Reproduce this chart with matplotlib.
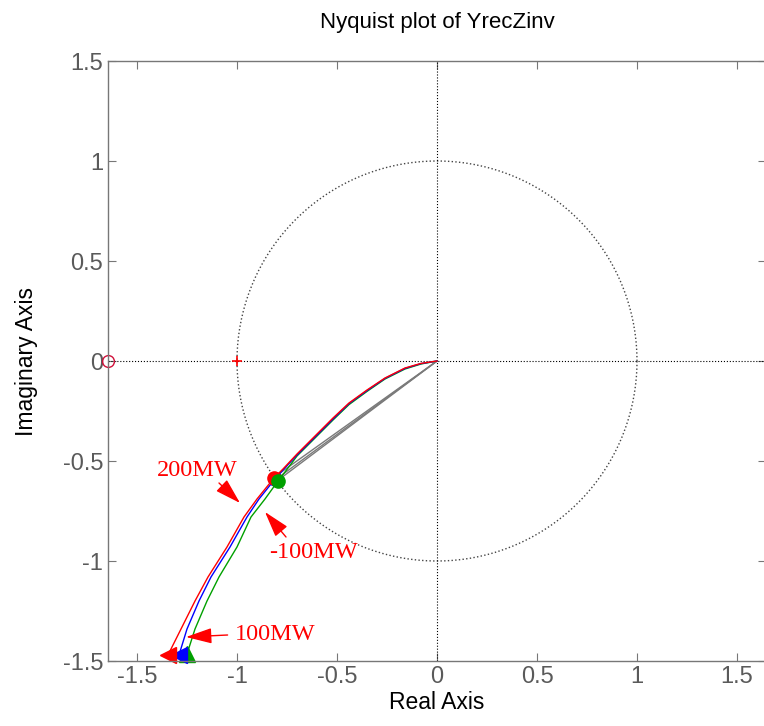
import numpy as np
import matplotlib
matplotlib.use("Agg")
import matplotlib.pyplot as plt
from matplotlib.ticker import FuncFormatter

plt.rcParams['font.family'] = ['Liberation Sans', 'DejaVu Sans']
plt.rcParams['axes.unicode_minus'] = False

# Nyquist curves (real, imag)
red_re = [0, -0.08, -0.16, -0.26, -0.35, -0.44, -0.52, -0.60, -0.70, -0.77, -0.815, -0.90, -0.965, -1.05, -1.145, -1.21, -1.28, -1.345]
red_im = [0, -0.012, -0.035, -0.085, -0.145, -0.21, -0.285, -0.365, -0.465, -0.54, -0.585, -0.69, -0.78, -0.93, -1.08, -1.20, -1.34, -1.47]
blue_re = [0, -0.08, -0.16, -0.26, -0.35, -0.44, -0.52, -0.60, -0.70, -0.77, -0.81, -0.89, -0.95, -1.035, -1.13, -1.19, -1.25, -1.29]
blue_im = [0, -0.013, -0.037, -0.087, -0.148, -0.213, -0.29, -0.37, -0.47, -0.545, -0.59, -0.69, -0.78, -0.93, -1.08, -1.20, -1.34, -1.47]
green_re = [0, -0.08, -0.16, -0.26, -0.35, -0.44, -0.52, -0.60, -0.70, -0.76, -0.795, -0.86, -0.93, -1.00, -1.09, -1.15, -1.21, -1.25]
green_im = [0, -0.015, -0.04, -0.09, -0.152, -0.218, -0.295, -0.375, -0.475, -0.555, -0.60, -0.69, -0.78, -0.93, -1.08, -1.20, -1.34, -1.465]

# straight grey segments (negative frequency part)
grey_end_re = [-0.82, -0.81, -0.80]
grey_end_im = [-0.585, -0.595, -0.60]

# operating-point labels: text position, arrow tail, arrow tip
labels = ['200MW', '-100MW', '100MW']
label_pos = [(-1.20, -0.545), (-0.62, -0.96), (-0.81, -1.365)]
arrow_tail = [(-1.09, -0.61), (-0.755, -0.88), (-1.047, -1.37)]
arrow_tip = [(-0.985, -0.71), (-0.86, -0.755), (-1.255, -1.38)]

ticks = [-1.5, -1, -0.5, 0, 0.5, 1, 1.5]

fig = plt.figure(figsize=(7.64, 7.26), dpi=100)
ax = fig.add_axes([108 / 764, 65 / 726, 658 / 764, 600 / 726])

# unit circle and axes lines
t = np.linspace(0, 2 * np.pi, 400)
ax.plot(np.cos(t), np.sin(t), color='#444444', ls=':', lw=1.0)
ax.axhline(0, color='black', ls=':', lw=0.8)
ax.axvline(0, color='black', ls=':', lw=0.8)
ax.plot([-1], [0], marker='+', color='red', ms=7, mew=1.2)

for xe, ye in zip(grey_end_re, grey_end_im):
    ax.plot([0, xe], [0, ye], color='#7a7a7a', lw=1.0)

ax.plot(green_re, green_im, color='#00a000', lw=1.0)
ax.plot(blue_re, blue_im, color='blue', lw=1.0)
ax.plot(red_re, red_im, color='red', lw=1.0)

# operating points
ax.plot(blue_re[10], blue_im[10], 'o', color='blue', ms=9.5)
ax.plot(red_re[10], red_im[10], 'o', color='red', ms=9.5)
ax.plot(green_re[10], green_im[10], 'o', color='#00a000', ms=9.5)

# direction arrows at the ends
ax.plot(green_re[-1], green_im[-1], '^', color='#00a000', ms=12, clip_on=False)
ax.plot(blue_re[-1], blue_im[-1], '<', color='blue', ms=11, clip_on=False)
ax.plot(red_re[-1], red_im[-1], '<', color='red', ms=11, clip_on=False)

ax.plot(-1.645, 0, 'o', mfc='none', mec='#d0103a', ms=8.5, mew=1.0, clip_on=False)

for lab, pos, tail, tip in zip(labels, label_pos, arrow_tail, arrow_tip):
    ax.text(pos[0], pos[1], lab, color='red', fontsize=17.5,
            family=['Liberation Serif', 'DejaVu Serif'], ha='center', va='center')
    ax.annotate('', xy=tip, xytext=tail,
                arrowprops=dict(arrowstyle='-|>,head_length=1.0,head_width=0.3',
                                color='red', lw=1.0, shrinkA=0, shrinkB=0,
                                mutation_scale=16))

ax.set_xlim(-1.645, 1.645)
ax.set_ylim(-1.5, 1.5)
ax.set_xticks(ticks)
ax.set_yticks(ticks)
fmt = FuncFormatter(lambda v, p: '%g' % v)
ax.xaxis.set_major_formatter(fmt)
ax.yaxis.set_major_formatter(fmt)
ax.tick_params(direction='in', length=6, width=0.8, colors='#777777',
               labelcolor='#5a5a5a', labelsize=17, top=True, right=True)
for s in ax.spines.values():
    s.set_color('#777777')
    s.set_linewidth(1.0)

ax.set_xlabel('Real Axis', fontsize=16.5, labelpad=2)
ax.set_ylabel('Imaginary Axis', fontsize=16.5, labelpad=18)
ax.set_title('Nyquist plot of YrecZinv', fontsize=16, pad=24)

fig.savefig('out.png', dpi=100)
